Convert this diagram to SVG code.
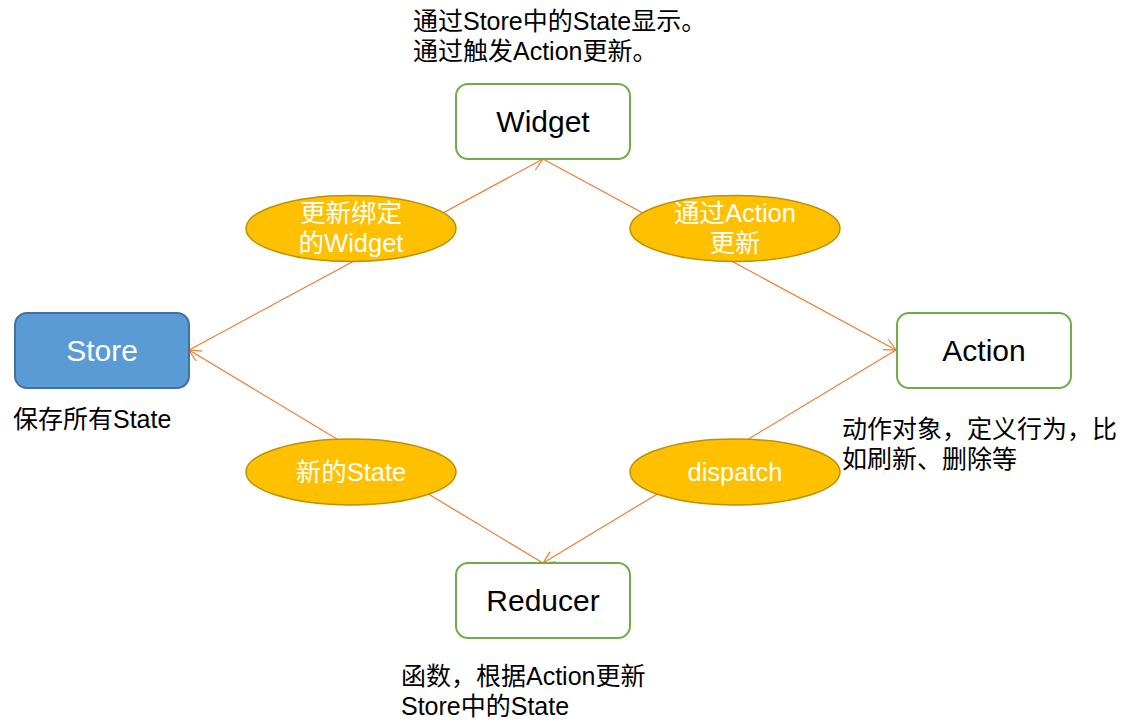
<svg xmlns="http://www.w3.org/2000/svg" width="1139" height="727" viewBox="0 0 1139 727">
<defs>
<style>
.box{fill:#fff;stroke:#70AD47;stroke-width:2}
.store{fill:#5B9BD5;stroke:#41719C;stroke-width:2}
.ell{fill:#FFC000;stroke:#BF9000;stroke-width:1.5}
.lbl{font-family:"Liberation Sans","Noto Sans CJK SC",sans-serif;font-size:30px;text-anchor:middle;fill:#000}
.lblw{fill:#fff}
.et{font-family:"Liberation Sans","Noto Sans CJK SC",sans-serif;font-size:25.5px;text-anchor:middle;fill:#fff}
.note{font-family:"Liberation Sans","Noto Sans CJK SC",sans-serif;font-size:25px;fill:#000}
.conn{stroke:#ED7D31;stroke-width:1.2;fill:none}
</style>
<marker id="arr" markerWidth="14" markerHeight="14" refX="12" refY="6" orient="auto" markerUnits="userSpaceOnUse">
<path d="M0,0 L12,6 L0,12" fill="none" stroke="#ED7D31" stroke-width="1.2"/>
</marker>
</defs>
<rect width="1139" height="727" fill="#fff"/>
<g id="connectors">
<line class="conn" x1="189" y1="350" x2="543" y2="159" marker-end="url(#arr)"/>
<line class="conn" x1="543" y1="159" x2="896" y2="350" marker-end="url(#arr)"/>
<line class="conn" x1="896" y1="350" x2="543" y2="563" marker-end="url(#arr)"/>
<line class="conn" x1="543" y1="563" x2="189" y2="350" marker-end="url(#arr)"/>
</g>
<g id="widget">
<rect class="box" x="456" y="84" width="174" height="75" rx="12"/>
<text class="lbl" x="543" y="132">Widget</text>
</g>
<g id="store">
<rect class="store" x="15" y="313" width="174" height="75" rx="12"/>
<text class="lbl lblw" x="102" y="361">Store</text>
</g>
<g id="action">
<rect class="box" x="897" y="313" width="174" height="75" rx="12"/>
<text class="lbl" x="984" y="361">Action</text>
</g>
<g id="reducer">
<rect class="box" x="456" y="563" width="174" height="75" rx="12"/>
<text class="lbl" x="543" y="611">Reducer</text>
</g>
<g id="e-update-widget">
<ellipse class="ell" cx="351" cy="228.5" rx="105" ry="33"/>
<text class="et" x="351" y="222">更新绑定</text>
<text class="et" x="351" y="252">的Widget</text>
</g>
<g id="e-via-action">
<ellipse class="ell" cx="735" cy="228.5" rx="105" ry="33"/>
<text class="et" x="735" y="222">通过Action</text>
<text class="et" x="735" y="252">更新</text>
</g>
<g id="e-new-state">
<ellipse class="ell" cx="351" cy="472" rx="105" ry="33"/>
<text class="et" x="351" y="481">新的State</text>
</g>
<g id="e-dispatch">
<ellipse class="ell" cx="735" cy="472" rx="105" ry="33"/>
<text class="et" x="735" y="481">dispatch</text>
</g>
<g id="notes">
<text class="note" x="413" y="30">通过Store中的State显示。</text>
<text class="note" x="413" y="60">通过触发Action更新。</text>
<text class="note" x="13" y="428">保存所有State</text>
<text class="note" x="842" y="438">动作对象，定义行为，比</text>
<text class="note" x="842" y="468">如刷新、删除等</text>
<text class="note" x="401" y="685">函数，根据Action更新</text>
<text class="note" x="401" y="715">Store中的State</text>
</g>
</svg>
